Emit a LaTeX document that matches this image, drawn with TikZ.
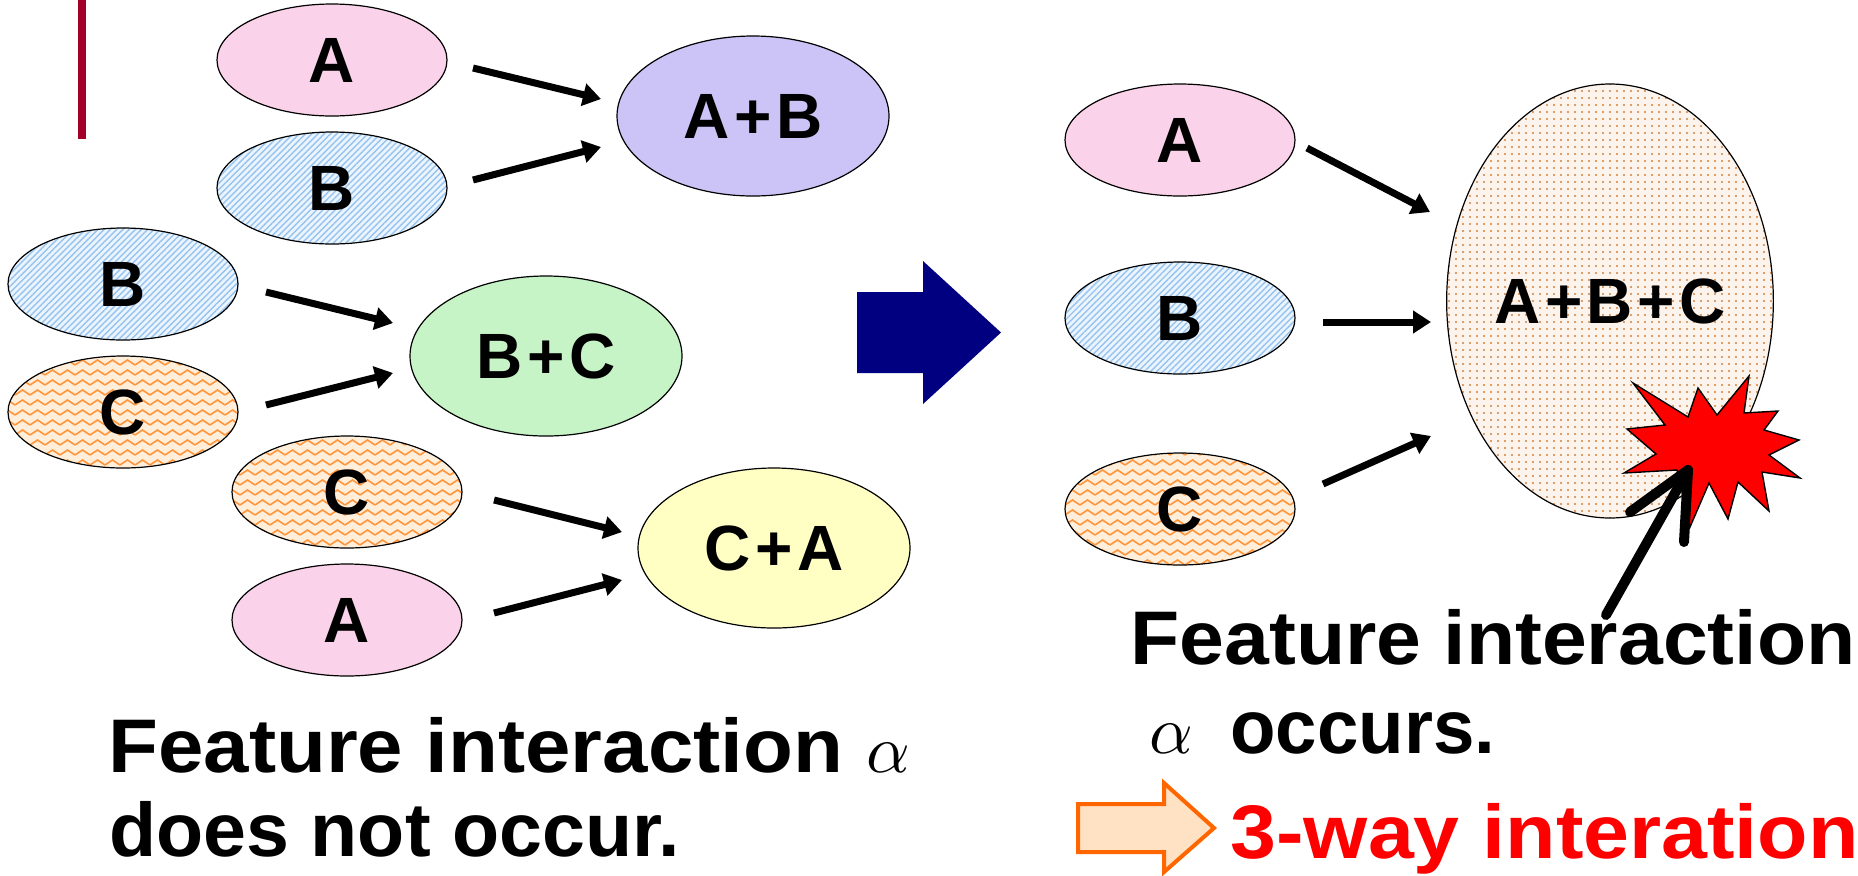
\documentclass[tikz,border=0pt]{standalone}
\usepackage{graphicx}
\usepackage{fontspec}
\setmainfont{Liberation Sans}
\usetikzlibrary{arrows.meta,shapes.geometric,patterns,patterns.meta,calc}

\definecolor{pinkfill}{RGB}{250,210,233}
\definecolor{lavfill}{RGB}{204,196,246}
\definecolor{greenfill}{RGB}{198,244,198}
\definecolor{yellowfill}{RGB}{255,255,196}
\definecolor{hatchblue}{RGB}{150,196,240}
\definecolor{bluebg}{RGB}{236,244,253}
\definecolor{zigorange}{RGB}{255,150,60}
\definecolor{orangebg}{RGB}{255,238,218}
\definecolor{dotbrown}{RGB}{210,128,64}
\definecolor{brownbg}{RGB}{252,244,236}
\definecolor{navyarrow}{RGB}{0,0,128}
\definecolor{barred}{RGB}{163,0,40}
\definecolor{peach}{RGB}{255,226,196}
\definecolor{borderorange}{RGB}{255,102,0}
\definecolor{starred}{RGB}{255,0,0}

\tikzdeclarepattern{
  name=zigzag,
  type=uncolored,
  bottom left={(0pt,-0.6pt)},
  top right={(7.5pt,3.1pt)},
  tile size={(7.5pt,5pt)},
  code={
    \draw[line width=0.8pt] (0pt,0pt) -- (3.75pt,2.5pt) -- (7.5pt,0pt);
  }
}

\newcommand\plussign{\kern2.2pt+\kern2.2pt}
\newcommand\bigalpha{\scalebox{3.4}{$\alpha$}}

\begin{document}
\begin{tikzpicture}[x=0.5pt,y=-0.5pt,
  feat/.style={ellipse,draw=black,line width=0.6pt,inner sep=0pt,
    minimum width=115pt,minimum height=56pt,
    font=\fontsize{32pt}{36pt}\selectfont\bfseries},
  combo/.style={feat,minimum width=136pt,minimum height=80pt},
  pinkf/.style={fill=pinkfill},
  bluef/.style={preaction={fill=bluebg},
    pattern={Lines[angle=45,distance=2.2pt,line width=0.7pt]},pattern color=hatchblue},
  orangef/.style={preaction={fill=orangebg},pattern=zigzag,pattern color=zigorange},
  lavf/.style={fill=lavfill},
  greenf/.style={fill=greenfill},
  yellowf/.style={fill=yellowfill},
  brownf/.style={preaction={fill=brownbg},
    pattern={Dots[distance=3.5pt,radius=0.6pt]},pattern color=dotbrown},
  conn/.style={line width=3.5pt,-{Triangle[length=9pt,width=11pt]}},
  caption/.style={anchor=base west,inner sep=0pt,
    font=\fontsize{38pt}{44pt}\selectfont\bfseries},
  greek/.style={anchor=base west,inner sep=0pt,font=\normalsize},
]
\useasboundingbox (0,0) rectangle (1858,875);

% red bar
\fill[barred] (78,0) rectangle (86,139);

% left group 1
\node[feat,pinkf] (la1) at (332,60) {A};
\node[feat,bluef] (lb1) at (332,188) {B};
\node[combo,lavf] (ab) at (753,116) {A\plussign B};
% left group 2
\node[feat,bluef] (lb2) at (123,284) {B};
\node[feat,orangef] (lc2) at (123,412) {C};
\node[combo,greenf] (bc) at (546,356) {B\plussign C};
% left group 3
\node[feat,orangef] (lc3) at (347,492) {C};
\node[feat,pinkf] (la3) at (347,620) {A};
\node[combo,yellowf] (ca) at (774,548) {C\plussign A};

% connector end points
\coordinate (a1s) at (473,68);  \coordinate (a1e) at (601,99);
\coordinate (b1s) at (473,180); \coordinate (b1e) at (601,147);
\coordinate (b2s) at (266,292); \coordinate (b2e) at (393,323);
\coordinate (c2s) at (266,405); \coordinate (c2e) at (393,373);
\coordinate (c3s) at (494,500); \coordinate (c3e) at (622,532);
\coordinate (a3s) at (494,613); \coordinate (a3e) at (622,580);
\draw[conn] (a1s) -- (a1e);
\draw[conn] (b1s) -- (b1e);
\draw[conn] (b2s) -- (b2e);
\draw[conn] (c2s) -- (c2e);
\draw[conn] (c3s) -- (c3e);
\draw[conn] (a3s) -- (a3e);

% big blue arrow
\fill[navyarrow] (857,292) -- (923,292) -- (923,261) -- (1001,332.5)
  -- (923,404) -- (923,373) -- (857,373) -- cycle;

% right group
\node[feat,pinkf] (ra) at (1180,140) {A};
\node[feat,bluef] (rb) at (1180,318) {B};
\node[feat,orangef] (rc) at (1180,509) {C};
\node[feat,brownf,minimum width=161pt,minimum height=217pt] (abc) at (1610,301) {A\plussign B\plussign C};

\coordinate (ras) at (1307,148); \coordinate (rae) at (1430,212);
\coordinate (rbs) at (1323,322); \coordinate (rbe) at (1431,322);
\coordinate (rcs) at (1323,484); \coordinate (rce) at (1431,436);
\draw[conn] (ras) -- (rae);
\draw[conn] (rbs) -- (rbe);
\draw[conn] (rcs) -- (rce);

% explosion
\draw[fill=starred,draw=black,line width=0.7pt,line join=miter]
  (1633,383) -- (1688,417) -- (1698,388) -- (1717,415) -- (1749,376)
  -- (1744,413) -- (1778,411) -- (1764,430) -- (1799,440) -- (1769,455)
  -- (1800,478) -- (1762,472) -- (1769,511) -- (1738,482) -- (1728,519)
  -- (1709,483) -- (1690,527) -- (1677,470) -- (1624,473) -- (1656,454)
  -- (1627,429) -- (1665,425) -- cycle;

% pointer arrow
\coordinate (ptail) at (1606,615);
\coordinate (ptip) at (1688,470);
\draw[line width=5pt,line cap=round] (ptail) -- (ptip);
\draw[line width=5pt,line cap=round,line join=round]
  ($(ptip)+(-58,42)$) -- (ptip) -- ($(ptip)+(-4,72)$);

% captions left
\node[caption] (capL1) at (108,772) {\scalebox{1.074}[1]{Feature interaction}};
\node[greek] (alphaL) at (866,772) {\bigalpha};
\node[caption] (capL2) at (109,856) {\scalebox{1.015}[1]{does not occur.}};

% captions right
\node[caption] (capR1) at (1130,664) {\scalebox{1.06}[1]{Feature interaction}};
\node[greek] (alphaR) at (1149,753) {\bigalpha};
\node[caption] (capR2) at (1230,753) {\scalebox{0.98}[1]{occurs.}};

% orange block arrow
\draw[fill=peach,draw=borderorange,line width=2pt,line join=miter]
  (1078,804) -- (1164,804) -- (1164,783) -- (1214,828) -- (1164,872)
  -- (1164,852) -- (1078,852) -- cycle;
\node[caption,text=starred] (capR3) at (1230,858) {\scalebox{1.086}[1]{3-way interation}};
\end{tikzpicture}
\end{document}
